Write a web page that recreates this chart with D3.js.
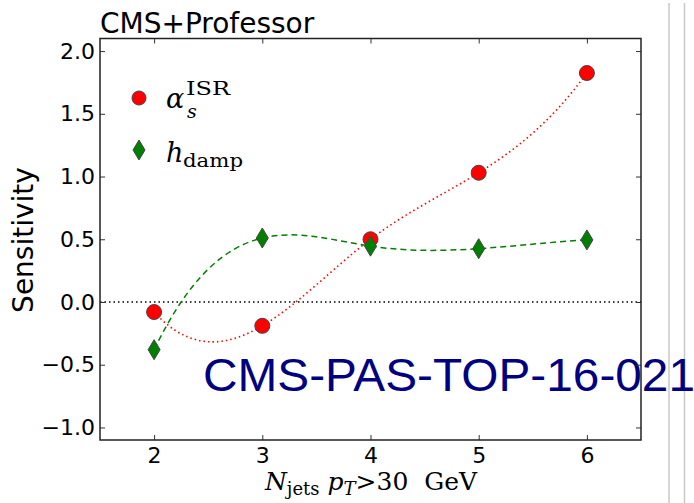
<!DOCTYPE html>
<html><head><meta charset="utf-8">
<script src="https://cdn.jsdelivr.net/npm/d3@7"></script>
<style>body{margin:0;background:#fff}svg{display:block}</style>
</head><body>
<svg id="chart" width="694" height="503"></svg>
<script>
const nJets = [2, 3, 4, 5, 6];
const alphaISR = [-0.08, -0.19, 0.50, 1.03, 1.825];
const hdamp = [-0.38, 0.51, 0.445, 0.425, 0.495];
const yTicks = [-1.0, -0.5, 0.0, 0.5, 1.0, 1.5, 2.0];
const xTicks = [2, 3, 4, 5, 6];
const seriesNames = ["alpha", "hdamp"];

const svg = d3.select("#chart");
const x = d3.scaleLinear().domain([1.5, 6.5]).range([100, 641]);
const y = d3.scaleLinear().domain([-1.1, 2.1]).range([440, 38.5]);

// not-a-knot cubic spline curve (like scipy interp1d kind='cubic')
function NotAKnot(context){ this._context = context; }
NotAKnot.prototype = {
  areaStart(){}, areaEnd(){},
  lineStart(){ this._x = []; this._y = []; },
  point(px, py){ this._x.push(+px); this._y.push(+py); },
  lineEnd(){
    const X = this._x, Y = this._y, n = X.length - 1, c = this._context;
    if (n < 3) { c.moveTo(X[0], Y[0]); for (let i = 1; i <= n; i++) c.lineTo(X[i], Y[i]); return; }
    const h = []; for (let i = 0; i < n; i++) h.push(X[i+1] - X[i]);
    const A = Array.from({length: n+1}, () => new Array(n+1).fill(0));
    const b = new Array(n+1).fill(0);
    A[0][0] = -h[1]; A[0][1] = h[0] + h[1]; A[0][2] = -h[0];
    for (let i = 1; i < n; i++) {
      A[i][i-1] = h[i-1]; A[i][i] = 2*(h[i-1] + h[i]); A[i][i+1] = h[i];
      b[i] = 6*((Y[i+1]-Y[i])/h[i] - (Y[i]-Y[i-1])/h[i-1]);
    }
    A[n][n-2] = -h[n-1]; A[n][n-1] = h[n-2] + h[n-1]; A[n][n] = -h[n-2];
    const N = n + 1;
    for (let k = 0; k < N; k++) {
      let p = k; for (let r = k+1; r < N; r++) if (Math.abs(A[r][k]) > Math.abs(A[p][k])) p = r;
      [A[k], A[p]] = [A[p], A[k]]; [b[k], b[p]] = [b[p], b[k]];
      for (let r = k+1; r < N; r++) {
        const f = A[r][k] / A[k][k];
        for (let j = k; j < N; j++) A[r][j] -= f*A[k][j];
        b[r] -= f*b[k];
      }
    }
    const M = new Array(N).fill(0);
    for (let k = N-1; k >= 0; k--) {
      let s = b[k]; for (let j = k+1; j < N; j++) s -= A[k][j]*M[j];
      M[k] = s / A[k][k];
    }
    c.moveTo(X[0], Y[0]);
    for (let i = 0; i < n; i++) {
      const s = (Y[i+1]-Y[i])/h[i];
      const d0 = s - h[i]*(2*M[i] + M[i+1])/6;
      const d1 = s + h[i]*(M[i] + 2*M[i+1])/6;
      c.bezierCurveTo(X[i] + h[i]/3, Y[i] + d0*h[i]/3, X[i+1] - h[i]/3, Y[i+1] - d1*h[i]/3, X[i+1], Y[i+1]);
    }
  }
};
const curveNotAKnot = ctx => new NotAKnot(ctx);

// right-hand gray page lines
svg.append("line").attr("x1", 669).attr("x2", 669).attr("y1", 3).attr("y2", 503).attr("stroke", "#c8c8c8").attr("stroke-width", 1.5);
svg.append("line").attr("x1", 684.5).attr("x2", 684.5).attr("y1", 3).attr("y2", 503).attr("stroke", "#c8c8c8").attr("stroke-width", 1.5);

// zero line
svg.append("line").attr("x1", x(1.5)).attr("x2", x(6.5)).attr("y1", y(0)).attr("y2", y(0))
  .attr("stroke", "#000").attr("stroke-width", 1.3).attr("stroke-dasharray", "1.5,3");

// watermark
svg.append("text").attr("x", 203).attr("y", 391)
  .attr("font-family", "Liberation Sans, Arial, sans-serif").attr("font-size", 46)
  .attr("textLength", 492).attr("lengthAdjust", "spacingAndGlyphs")
  .attr("fill", "#000080").text("CMS-PAS-TOP-16-021");

const line = d3.line().x((d, i) => x(nJets[i])).y(d => y(d)).curve(curveNotAKnot);

svg.append("path").datum(alphaISR).attr("d", line).attr("fill", "none")
  .attr("stroke", "#ff0000").attr("stroke-width", 1.6).attr("stroke-dasharray", "1.5,3");
svg.append("path").datum(hdamp).attr("d", line).attr("fill", "none")
  .attr("stroke", "#008000").attr("stroke-width", 1.5).attr("stroke-dasharray", "6,4");

svg.append("g").selectAll("circle").data(alphaISR).join("circle")
  .attr("cx", (d, i) => x(nJets[i])).attr("cy", d => y(d)).attr("r", 7.5)
  .attr("fill", "#ff0000").attr("stroke", "#444").attr("stroke-width", 1);

const diamond = (cx, cy) => `M${cx},${cy-10}L${cx+6},${cy}L${cx},${cy+10}L${cx-6},${cy}Z`;
svg.append("g").selectAll("path").data(hdamp).join("path")
  .attr("d", (d, i) => diamond(x(nJets[i]), y(d)))
  .attr("fill", "#008000").attr("stroke", "#444").attr("stroke-width", 1);

// axes frame
const gL = svg.append("g").attr("transform", `translate(${x(1.5)},0)`)
  .call(d3.axisLeft(y).tickValues(yTicks).tickSize(-5).tickPadding(5).tickFormat(d3.format(".1f")));
const gR = svg.append("g").attr("transform", `translate(${x(6.5)},0)`)
  .call(d3.axisRight(y).tickValues(yTicks).tickSize(-5).tickFormat(""));
const gB = svg.append("g").attr("transform", `translate(0,${y(-1.1)})`)
  .call(d3.axisBottom(x).tickValues(xTicks).tickSize(-5).tickPadding(7).tickFormat(d3.format("d")));
const gT = svg.append("g").attr("transform", `translate(0,${y(2.1)})`)
  .call(d3.axisTop(x).tickValues(xTicks).tickSize(-5).tickFormat(""));
[gL, gR, gB, gT].forEach(g => {
  g.select(".domain").remove();
  g.selectAll(".tick line").attr("stroke", "#333").attr("stroke-width", 1);
  g.selectAll("text").attr("font-family", "DejaVu Sans").attr("font-size", 22).attr("fill", "#000");
});
svg.append("rect").attr("x", x(1.5)).attr("y", y(2.1)).attr("width", x(6.5) - x(1.5)).attr("height", y(-1.1) - y(2.1))
  .attr("fill", "none").attr("stroke", "#222").attr("stroke-width", 1.5);

// title & labels
svg.append("text").attr("x", 100).attr("y", 33).attr("font-family", "DejaVu Sans").attr("font-size", 28).text("CMS+Professor");
svg.append("text").attr("transform", "translate(33,240) rotate(-90)").attr("text-anchor", "middle")
  .attr("font-family", "DejaVu Sans").attr("font-size", 28).text("Sensitivity");

const xl = svg.append("text").attr("x", 371).attr("y", 490).attr("text-anchor", "middle")
  .attr("font-family", "DejaVu Serif").attr("font-size", 25);
xl.append("tspan").attr("font-style", "italic").text("N");
xl.append("tspan").attr("font-size", 18).attr("dy", 5).text("jets");
xl.append("tspan").attr("dy", -5).text("\u00a0");
xl.append("tspan").attr("font-style", "italic").text("p");
xl.append("tspan").attr("font-style", "italic").attr("font-size", 18).attr("dy", 5).text("T");
xl.append("tspan").attr("dy", -5).text(">30\u00a0\u00a0GeV");

// legend
const leg = svg.append("g");
leg.append("circle").attr("cx", 139).attr("cy", 98).attr("r", 7).attr("fill", "#ff0000").attr("stroke", "#444").attr("stroke-width", 1);
leg.append("path").attr("d", diamond(139, 150)).attr("fill", "#008000").attr("stroke", "#444").attr("stroke-width", 1);
const t1 = leg.append("text").attr("x", 166).attr("y", 108).attr("font-family", "DejaVu Serif").attr("font-size", 27);
t1.append("tspan").attr("font-style", "italic").text("\u03b1");
t1.append("tspan").attr("font-style", "italic").attr("font-size", 19).attr("x", 187).attr("y", 118).text("s");
leg.append("text").attr("x", 186).attr("y", 95).attr("font-family", "DejaVu Serif").attr("font-size", 19)
  .attr("textLength", 44).attr("lengthAdjust", "spacingAndGlyphs").text("ISR");
const t2 = leg.append("text").attr("x", 166).attr("y", 162).attr("font-family", "DejaVu Serif").attr("font-size", 27);
t2.append("tspan").attr("font-style", "italic").text("h");
leg.append("text").attr("x", 183).attr("y", 167).attr("font-family", "DejaVu Serif").attr("font-size", 19)
  .attr("textLength", 60).attr("lengthAdjust", "spacingAndGlyphs").text("damp");
</script>
</body></html>
